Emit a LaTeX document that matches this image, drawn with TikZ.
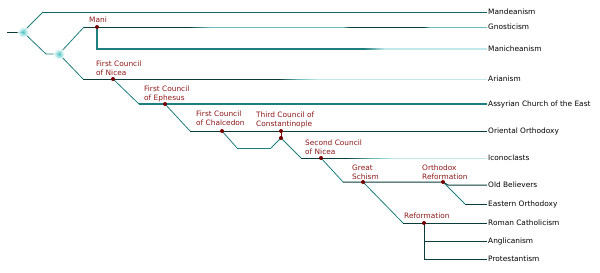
\documentclass[tikz,border=0pt]{standalone}
\usepackage{fontspec}
\newfontfamily\treefont{DejaVu Sans}
\definecolor{branchdark}{HTML}{0B3C3C}
\definecolor{branchteal}{HTML}{1F7E7E}
\definecolor{branchmid}{HTML}{6CBEBE}
\definecolor{branchpale}{HTML}{C2E9EA}
\definecolor{branchglow}{HTML}{4CC8CA}
\definecolor{councilred}{HTML}{8C1818}
\definecolor{dotred}{HTML}{780000}
% horizontal colour fade: x1, x2, y, from, to, width
\newcommand\fadeline[6]{%
  \foreach \i in {0,...,11}{
    \pgfmathsetmacro\xa{#1+(#2-#1)*\i/12}
    \pgfmathsetmacro\xb{#1+(#2-#1)*(\i+1)/12+0.3}
    \pgfmathtruncatemacro\pc{100-100*\i/11}
    \draw[#4!\pc!#5,line width=#6] (\xa,#3) -- (\xb,#3);}}
\begin{document}
\begin{tikzpicture}[x=1pt,y=-1pt,
    leaf/.style={anchor=west,inner sep=1pt,text height=5.4pt,text depth=1.4pt,font=\treefont\fontsize{7.4}{9}\selectfont},
    council/.style={anchor=north west,inner sep=0pt,align=left,text=councilred,font=\treefont\fontsize{7.4}{9}\selectfont},
    stem/.style={branchdark,line width=1pt},
    thick stem/.style={branchteal,line width=1.7pt},
    twig/.style={branchteal,line width=0.8pt},
    event/.style={circle,fill=dotred,inner sep=0pt,minimum size=4pt},
    glow/.style={inner color=branchglow,outer color=white,opacity=0.9}]
\path[use as bounding box] (0,0) rectangle (600,273);
% leaves
\node[leaf] (mandeanism) at (487,12) {Mandeanism};
\node[leaf] (gnosticism) at (487,27) {Gnosticism};
\node[leaf] (manicheanism) at (487,49) {Manicheanism};
\node[leaf] (arianism) at (487,79) {Arianism};
\node[leaf] (assyrian) at (487,104) {Assyrian Church of the East};
\node[leaf] (oriental) at (487,131) {Oriental Orthodoxy};
\node[leaf] (iconoclasts) at (487,158) {Iconoclasts};
\node[leaf] (oldbelievers) at (487,185) {Old Believers};
\node[leaf] (eastern) at (487,204) {Eastern Orthodoxy};
\node[leaf] (catholicism) at (487,223) {Roman Catholicism};
\node[leaf] (anglicanism) at (487,241) {Anglicanism};
\node[leaf] (protestantism) at (487,259) {Protestantism};
% bends and events
\coordinate (root) at (7,32);
\coordinate (b1) at (23,32);
\coordinate (k1) at (43,12);
\coordinate (k2) at (46,54);
\coordinate (b2) at (59,54);
\coordinate (k3) at (84,27);
\coordinate (mani) at (97,27);
\coordinate (k4) at (97,49);
\coordinate (k5) at (83,79);
\coordinate (nicea) at (113,79);
\coordinate (k6) at (139,104);
\coordinate (ephesus) at (165,104);
\coordinate (k7) at (190,131);
\coordinate (chalcedon) at (222,131);
\coordinate (k8) at (237,148);
\coordinate (k9) at (271,148);
\coordinate (constA) at (281,131);
\coordinate (constB) at (281,138);
\coordinate (k10) at (301,158);
\coordinate (nicea2) at (321,158);
\coordinate (k11) at (343,182);
\coordinate (schism) at (363,182);
\coordinate (orthref) at (443,182);
\coordinate (k12) at (448,185);
\coordinate (k13) at (465,204);
\coordinate (k14) at (403,223);
\coordinate (reform) at (424,223);
\coordinate (k15) at (424,241);
\coordinate (k16) at (424,259);
% branches
\draw[stem] (root) -- (b1);
\draw[twig] (b1) -- (k1);
\draw[branchteal!60!branchdark,line width=0.9pt] (k1) -- (mandeanism.west);
\draw[twig] (b1) -- (k2) -- (b2) -- (k3);
% gnosticism
\draw[stem] (k3) -- (188,27);
\fadeline{188}{212}{27}{branchdark}{branchmid}{1pt}
\draw[branchmid,line width=1pt] (212,27) -- (343,27);
\fadeline{343}{350}{27}{branchmid}{branchdark}{1pt}
\draw[stem] (350,27) -- (424,27);
\fadeline{424}{430}{27}{branchdark}{branchmid}{1pt}
\draw[branchmid,line width=1pt] (430,27) -- (gnosticism.west);
% manicheanism
\draw[thick stem] (mani) -- (k4) -- (363,49);
\fadeline{363}{386}{49}{branchteal}{branchpale}{1.7pt}
\draw[branchpale,line width=1.7pt] (386,49) -- (manicheanism.west);
% arianism
\draw[twig] (b2) -- (k5);
\draw[stem] (k5) -- (278,79);
\fadeline{278}{300}{79}{branchdark}{branchmid}{1pt}
\fadeline{300}{318}{79}{branchmid}{branchpale}{1pt}
\draw[branchpale,line width=1pt] (318,79) -- (arianism.west);
% assyrian
\draw[twig] (nicea) -- (k6);
\draw[thick stem] (k6) -- (assyrian.west);
% oriental
\draw[twig] (ephesus) -- (k7);
\draw[stem] (k7) -- (oriental.west);
% chalcedon detour
\draw[twig] (chalcedon) -- (k8);
\draw[stem,branchteal] (k8) -- (k9);
\draw[twig] (k9) -- (constB) -- (k10);
\draw[dotred,line width=1pt] (constA) -- (constB);
% iconoclasts
\draw[stem] (k10) -- (345,158);
\fadeline{345}{375}{158}{branchdark}{branchmid}{1pt}
\fadeline{375}{396}{158}{branchmid}{branchpale}{1pt}
\draw[branchpale,line width=1pt] (396,158) -- (iconoclasts.west);
% schism and after
\draw[twig] (nicea2) -- (k11);
\draw[stem] (k11) -- (orthref) -- (k12) -- (oldbelievers.west);
\draw[twig] (orthref) -- (k13);
\draw[stem] (k13) -- (eastern.west);
\draw[twig] (schism) -- (k14);
\draw[stem] (k14) -- (catholicism.west);
\draw[stem] (reform) -- (k16) -- (protestantism.west);
\draw[stem] (k15) -- (anglicanism.west);
% glows
\shade[glow] (b1) circle (5.5);
\shade[glow] (b2) circle (5.5);
% events
\foreach \ev in {mani,nicea,ephesus,chalcedon,constA,constB,nicea2,schism,orthref,reform}
  \node[event] (\ev dot) at (\ev) {};
% council labels
\node[council] (manilabel) at (89,16.5) {Mani};
\node[council] (nicealabel) at (96,60.5) {First Council\\of Nicea};
\node[council] (ephesuslabel) at (144,85.5) {First Council\\of Ephesus};
\node[council] (chalcedonlabel) at (196,110.5) {First Council\\of Chalcedon};
\node[council] (constlabel) at (256,111.5) {Third Council of\\Constantinople};
\node[council] (nicea2label) at (305,139.5) {Second Council\\of Nicea};
\node[council] (schismlabel) at (352,164.5) {Great\\Schism};
\node[council] (orthreflabel) at (422,164.5) {Orthodox\\Reformation};
\node[council] (reformlabel) at (404,212.5) {Reformation};
\end{tikzpicture}
\end{document}
